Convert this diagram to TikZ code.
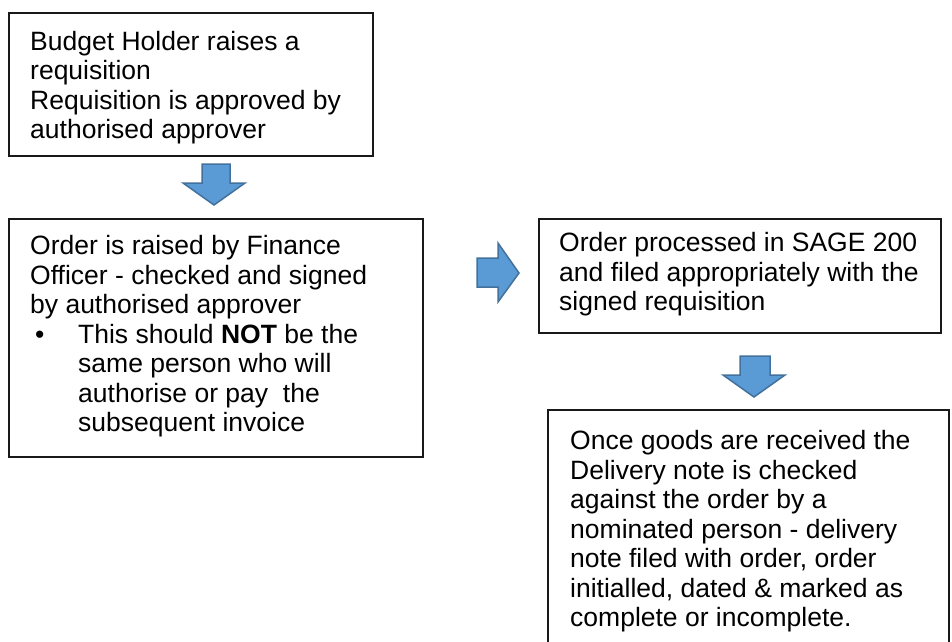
\documentclass[tikz,border=0pt]{standalone}
\usepackage{fontspec}
\setmainfont{Liberation Sans}
\definecolor{arrowfill}{HTML}{5B9BD5}
\definecolor{arrowline}{HTML}{41719C}
\begin{document}
\begin{tikzpicture}[x=1pt,y=-1pt,
  boxline/.style={draw=black!90, line width=1.5pt},
  txt/.style={anchor=north west, inner sep=0pt, align=left, font=\fontsize{26.5}{29.5}\selectfont},
  barrow/.style={fill=arrowfill, draw=arrowline, line width=1.5pt, line join=miter}]
\useasboundingbox (0,0) rectangle (952,641);
% boxes
\node[boxline, anchor=north west, minimum width=364pt, minimum height=143pt, inner sep=0pt] (b1) at (8,12) {};
\node[boxline, anchor=north west, minimum width=414pt, minimum height=238pt, inner sep=0pt] (b2) at (8,218) {};
\node[boxline, anchor=north west, minimum width=402pt, minimum height=114pt, inner sep=0pt] (b3) at (538,218) {};
\coordinate (b4nw) at (548,410);
\coordinate (b4ne) at (949,410);
\draw[boxline] (b4nw |- 0,645) -- (b4nw) -- (b4ne) -- (b4ne |- 0,645);
% texts
\node[txt] (t1) at (30,29.4) {\strut Budget Holder raises a\\requisition\\Requisition is approved by\\authorised approver};
\node[txt] (t2) at (30,234) {\strut Order is raised by Finance\\Officer - checked and signed\\by authorised approver\\
\hspace*{5pt}\makebox[43pt][l]{\textbullet}This should \textbf{NOT} be the\\
\hspace*{48pt}same person who will\\
\hspace*{48pt}authorise or pay~ the\\
\hspace*{48pt}subsequent invoice};
\node[txt] (t3) at (559,231) {\strut Order processed in SAGE 200\\and filed appropriately with the\\signed requisition};
\node[txt] (t4) at (570,429) {\strut Once goods are received the\\Delivery note is checked\\against the order by a\\nominated person - delivery\\note filed with order, order\\initialled, dated \& marked as\\complete or incomplete.};
% block arrows
\draw[barrow] (202,164) -- (230,164) -- (230,183) -- (245,183) -- (214,205) -- (183,183) -- (202,183) -- cycle;
\draw[barrow] (477,258) -- (498,258) -- (498,243) -- (519,273) -- (498,302) -- (498,287) -- (477,287) -- cycle;
\draw[barrow] (740,356) -- (770,356) -- (770,375) -- (785,375) -- (754,397) -- (723,375) -- (740,375) -- cycle;
\end{tikzpicture}
\end{document}
